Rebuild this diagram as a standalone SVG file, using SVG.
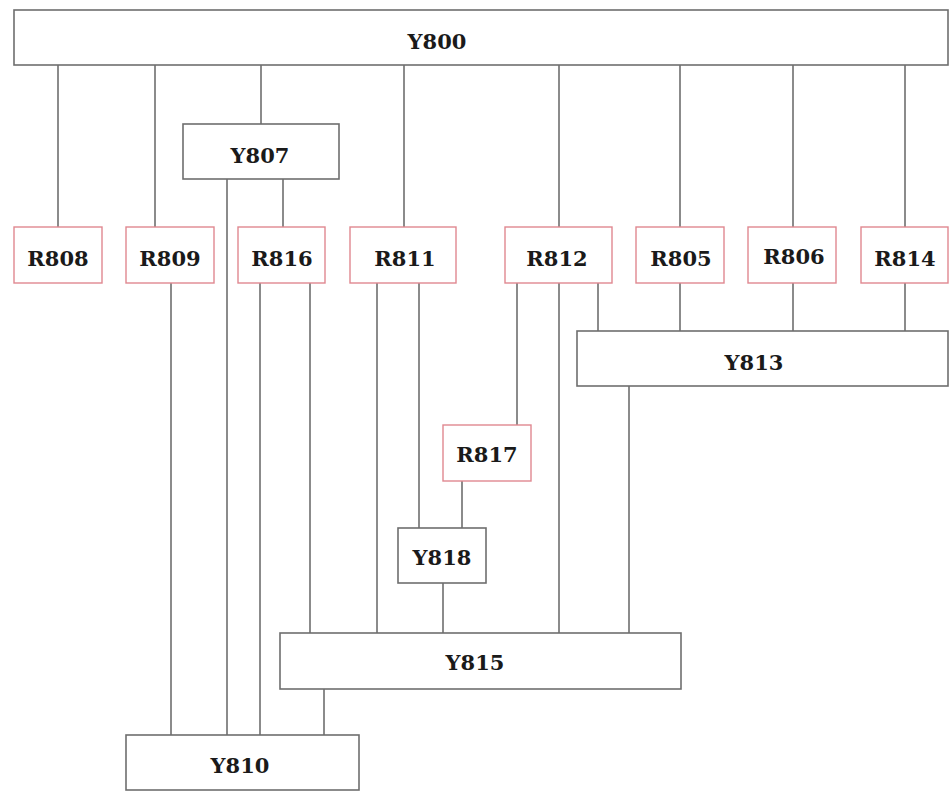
<svg xmlns="http://www.w3.org/2000/svg" width="949" height="791" viewBox="0 0 949 791">
<style>
.y rect{fill:#fff;stroke:#6e6e6e;stroke-width:1.6}
.r rect{fill:#fff;stroke:#e08890;stroke-width:1.4}
text{font-family:"DejaVu Serif","Liberation Serif",serif;font-size:21px;font-weight:bold;fill:#1a1a1a;text-anchor:middle}
#connectors line{stroke:#5a5a5a;stroke-width:1.4}
</style>
<rect width="949" height="791" fill="#fff"/>
<g id="connectors">
<line x1="58" y1="65" x2="58" y2="227"/>
<line x1="155" y1="65" x2="155" y2="227"/>
<line x1="261" y1="65" x2="261" y2="124"/>
<line x1="404" y1="65" x2="404" y2="227"/>
<line x1="559" y1="65" x2="559" y2="227"/>
<line x1="680" y1="65" x2="680" y2="227"/>
<line x1="793" y1="65" x2="793" y2="227"/>
<line x1="905" y1="65" x2="905" y2="227"/>
<line x1="227" y1="179" x2="227" y2="735"/>
<line x1="283" y1="179" x2="283" y2="227"/>
<line x1="171" y1="283" x2="171" y2="735"/>
<line x1="260" y1="283" x2="260" y2="735"/>
<line x1="310" y1="283" x2="310" y2="633"/>
<line x1="377" y1="283" x2="377" y2="633"/>
<line x1="419" y1="283" x2="419" y2="528"/>
<line x1="517" y1="283" x2="517" y2="425"/>
<line x1="559" y1="283" x2="559" y2="633"/>
<line x1="598" y1="283" x2="598" y2="331"/>
<line x1="680" y1="283" x2="680" y2="331"/>
<line x1="793" y1="283" x2="793" y2="331"/>
<line x1="905" y1="283" x2="905" y2="331"/>
<line x1="629" y1="386" x2="629" y2="633"/>
<line x1="462" y1="481" x2="462" y2="528"/>
<line x1="443" y1="583" x2="443" y2="633"/>
<line x1="324" y1="689" x2="324" y2="735"/>
</g>
<g id="Y800" class="y"><rect x="14" y="10" width="934" height="55"/><text x="437" y="49">Y800</text></g>
<g id="Y807" class="y"><rect x="183" y="124" width="156" height="55"/><text x="260" y="163">Y807</text></g>
<g id="R808" class="r"><rect x="14" y="227" width="88" height="56"/><text x="58" y="266">R808</text></g>
<g id="R809" class="r"><rect x="126" y="227" width="88" height="56"/><text x="170" y="266">R809</text></g>
<g id="R816" class="r"><rect x="238" y="227" width="87" height="56"/><text x="282" y="266">R816</text></g>
<g id="R811" class="r"><rect x="350" y="227" width="106" height="56"/><text x="405" y="266">R811</text></g>
<g id="R812" class="r"><rect x="505" y="227" width="107" height="56"/><text x="557" y="266">R812</text></g>
<g id="R805" class="r"><rect x="636" y="227" width="88" height="56"/><text x="681" y="266">R805</text></g>
<g id="R806" class="r"><rect x="748" y="227" width="88" height="56"/><text x="794" y="264">R806</text></g>
<g id="R814" class="r"><rect x="861" y="227" width="87" height="56"/><text x="905" y="266">R814</text></g>
<g id="Y813" class="y"><rect x="577" y="331" width="371" height="55"/><text x="754" y="370">Y813</text></g>
<g id="R817" class="r"><rect x="443" y="425" width="88" height="56"/><text x="487" y="462">R817</text></g>
<g id="Y818" class="y"><rect x="398" y="528" width="88" height="55"/><text x="442" y="565">Y818</text></g>
<g id="Y815" class="y"><rect x="280" y="633" width="401" height="56"/><text x="475" y="670">Y815</text></g>
<g id="Y810" class="y"><rect x="126" y="735" width="233" height="55"/><text x="240" y="773">Y810</text></g>
</svg>
